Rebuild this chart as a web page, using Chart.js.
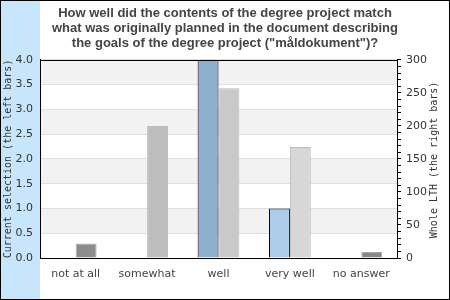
<!DOCTYPE html>
<html>
<head>
<meta charset="utf-8">
<script src="https://cdn.jsdelivr.net/npm/chart.js@4"></script>
<style>
html,body{margin:0;padding:0;background:#fff;}
#wrap{width:450px;height:300px;position:relative;}
</style>
</head>
<body>
<div id="wrap"><canvas id="c" width="450" height="300"></canvas></div>
<script>
const titleLines = ['How well did the contents of the degree project match', 'what was originally planned in the document describing', 'the goals of the degree project ("måldokument")?'];
const categories = ['not at all', 'somewhat', 'well', 'very well', 'no answer'];
const currentSelection = [0, 0, 4, 1, 0];
const wholeLTH = [22, 200, 257, 168, 9];
const leftAxisTitle = 'Current selection (the left bars)';
const rightAxisTitle = 'Whole LTH (the right bars)';
const leftColors = ['#8fb0cc', '#8fb0cc', '#8fb0cc', '#abcde9', '#8fb0cc'];
const rightColors = ['#8c8c8c', '#bdbdbd', '#c9c9c9', '#d7d7d7', '#888888'];
const rightBorders = ['#aaaaaa', '#bdbdbd', '#bbbbbb', '#bbbbbb', '#aaaaaa'];

const bgPlugin = {
  id: 'bg',
  beforeDraw(chart) {
    const ctx = chart.ctx, a = chart.chartArea, y = chart.scales.y;
    ctx.save();
    ctx.fillStyle = '#fff';
    ctx.fillRect(0, 0, chart.width, chart.height);
    ctx.fillStyle = '#c8e6fb';
    ctx.fillRect(0, 0, a.left, chart.height);
    ctx.fillStyle = '#f2f2f2';
    for (let v = 4; v > 0; v -= 1) {
      const t = y.getPixelForValue(v), b = y.getPixelForValue(v - 0.5);
      ctx.fillRect(a.left, t, a.right - a.left, b - t);
    }
    ctx.restore();
  },
  afterDraw(chart) {
    const ctx = chart.ctx, a = chart.chartArea;
    ctx.save();
    ctx.strokeStyle = '#000';
    ctx.lineWidth = 1;
    ctx.beginPath();
    ctx.moveTo(a.left, Math.round(a.top) + 0.5);
    ctx.lineTo(a.right, Math.round(a.top) + 0.5);
    ctx.stroke();
    ctx.strokeRect(0.5, 0.5, chart.width - 1, chart.height - 1);
    // right axis title, reading bottom to top
    ctx.fillStyle = '#333';
    ctx.font = '10px "DejaVu Sans Mono"';
    ctx.textAlign = 'center';
    ctx.textBaseline = 'middle';
    ctx.translate(434, (a.top + a.bottom) / 2 + 1);
    ctx.rotate(-Math.PI / 2);
    ctx.fillText(rightAxisTitle, 0, 0);
    ctx.restore();
  }
};

new Chart(document.getElementById('c'), {
  type: 'bar',
  data: {
    labels: categories,
    datasets: [
      {
        label: leftAxisTitle,
        data: currentSelection,
        yAxisID: 'y',
        backgroundColor: leftColors,
        borderColor: '#000',
        borderWidth: ctx => (ctx.raw ? 1 : 0)
      },
      {
        label: rightAxisTitle,
        data: wholeLTH,
        yAxisID: 'y2',
        backgroundColor: rightColors,
        borderColor: rightBorders,
        borderWidth: 1
      }
    ]
  },
  options: {
    responsive: false,
    animation: false,
    devicePixelRatio: 1,
    categoryPercentage: 0.585,
    barPercentage: 1,
    layout: { padding: { top: 0, left: 0, right: 0, bottom: 0 } },
    plugins: {
      legend: { display: false },
      tooltip: { enabled: false },
      title: {
        display: true,
        text: titleLines,
        color: '#444',
        font: { family: '"Liberation Sans", Arial, sans-serif', size: 13, weight: 'bold', lineHeight: 1.15 },
        padding: { top: 6, bottom: 9 }
      }
    },
    scales: {
      x: {
        afterFit(s) { s.height = 42; },
        grid: { drawOnChartArea: false, drawTicks: false },
        border: { color: '#000', width: 1 },
        ticks: { color: '#444', padding: 10, font: { family: '"DejaVu Sans"', size: 11 }, maxRotation: 0 }
      },
      y: {
        position: 'left',
        min: 0, max: 4,
        afterFit(s) { s.width = 40; },
        grid: { color: '#e0e0e0', drawTicks: false },
        border: { color: '#000', width: 1 },
        ticks: { stepSize: 0.5, color: '#333', padding: 7, font: { family: '"DejaVu Sans"', size: 11 }, callback: v => v.toFixed(1) },
        title: { display: true, text: leftAxisTitle, color: '#333', font: { family: '"DejaVu Sans Mono"', size: 10, lineHeight: 1.2 }, padding: { top: 2.5, bottom: 0 } }
      },
      y2: {
        position: 'right',
        min: 0, max: 300,
        afterFit(s) { s.width = 53; },
        grid: { drawOnChartArea: false, drawTicks: true, tickLength: 4, color: '#000' },
        border: { color: '#000', width: 1 },
        ticks: { stepSize: 10, autoSkip: false, color: '#333', padding: 5, font: { family: '"DejaVu Sans"', size: 11 }, callback: v => (v % 50 === 0 ? String(v) : '') }
      }
    }
  },
  plugins: [bgPlugin]
});
</script>
</body>
</html>
